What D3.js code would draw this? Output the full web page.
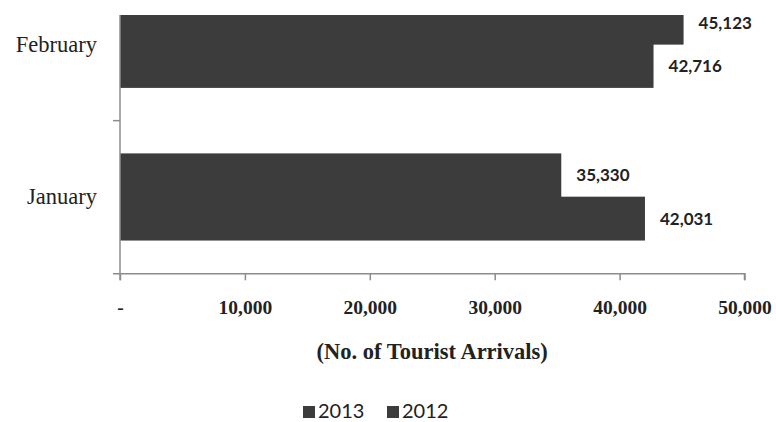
<!DOCTYPE html>
<html>
<head>
<meta charset="utf-8">
<script src="https://cdn.jsdelivr.net/npm/d3@7"></script>
<style>
  html, body { margin: 0; padding: 0; background: #fff; }
  svg { display: block; }
</style>
</head>
<body>
<svg id="chart" width="776" height="422"></svg>
<script>
// Monthly tourist arrivals, 2013 vs 2012
const months = ["February", "January"];
const years = ["2013", "2012"];
const arrivals2013 = [45123, 35330];
const arrivals2012 = [42716, 42031];
const xTicks = [0, 10000, 20000, 30000, 40000, 50000];
const xTickLabels = ["-", "10,000", "20,000", "30,000", "40,000", "50,000"];
const axisTitle = "(No. of Tourist Arrivals)";

const rows = months.map((m, i) => ({
  month: m,
  values: [
    { year: years[0], value: arrivals2013[i] },
    { year: years[1], value: arrivals2012[i] }
  ]
}));

const svg = d3.select("#chart");
const left = 120, right = 744.5, bottom = 273.3;
const bandStep = 152.65;

const x = d3.scaleLinear().domain([0, 50000]).range([left, right]);
const y = d3.scaleBand()
  .domain(months)
  .range([bottom - bandStep * months.length, bottom])
  .paddingInner(0.433)
  .paddingOuter(0.2165);
const ySub = d3.scaleBand().domain(years).range([0, y.bandwidth()]);

const barColor = "#3c3c3c";
const axisColor = "#8c8c8c";

// plot area is trimmed at the top edge
svg.append("defs").append("clipPath").attr("id", "plotClip")
  .append("rect").attr("x", 0).attr("y", 15).attr("width", 776).attr("height", 422);

const plot = svg.append("g").attr("clip-path", "url(#plotClip)");

// bars
const groups = plot.selectAll("g.month")
  .data(rows).join("g")
  .attr("class", "month")
  .attr("transform", d => `translate(0,${y(d.month)})`);

groups.selectAll("rect")
  .data(d => d.values).join("rect")
  .attr("x", x(0))
  .attr("y", d => ySub(d.year) - 0.3)
  .attr("width", d => x(d.value) - x(0))
  .attr("height", ySub.bandwidth() + 0.6)
  .attr("fill", barColor);

// value labels
groups.selectAll("text")
  .data(d => d.values).join("text")
  .attr("x", d => x(d.value) + 15)
  .attr("y", d => ySub(d.year) + ySub.bandwidth() / 2)
  .attr("dy", "0.36em")
  .attr("font-family", "Lato, 'Open Sans', sans-serif")
  .attr("font-weight", "bold")
  .attr("font-size", 17)
  .attr("fill", "#222")
  .text(d => d3.format(",")(d.value));

// x axis
const xAxis = d3.axisBottom(x)
  .tickValues(xTicks)
  .tickSize(7)
  .tickFormat((d, i) => xTickLabels[i]);
const gx = svg.append("g")
  .attr("transform", `translate(0,${bottom})`)
  .call(xAxis);
gx.select(".domain").attr("stroke", axisColor).attr("stroke-width", 1.5)
  .attr("d", `M${left - 7},0.5H${right}V7`);
gx.selectAll(".tick line").attr("stroke", axisColor).attr("stroke-width", 1.5);
gx.selectAll(".tick text")
  .attr("y", 41)
  .attr("dy", 0)
  .attr("font-family", "'Liberation Serif', 'Times New Roman', serif")
  .attr("font-weight", "bold")
  .attr("font-size", 19.5)
  .attr("fill", "#222");

// y axis
const yAxis = d3.axisLeft(y).tickSize(0).tickPadding(23);
const gy = svg.append("g")
  .attr("transform", `translate(${left},0)`)
  .call(yAxis);
gy.select(".domain").attr("stroke", axisColor).attr("stroke-width", 1.5)
  .attr("d", `M0,15V${bottom + 7}`);
gy.selectAll(".tick text")
  .attr("font-family", "'Liberation Serif', 'Times New Roman', serif")
  .attr("font-size", 22.5)
  .attr("fill", "#222");

// category boundary ticks
const boundaries = months.map(m => y(m) - y.step() * y.paddingInner() / 2).slice(1);
gy.selectAll("line.boundary")
  .data(boundaries).join("line")
  .attr("class", "boundary")
  .attr("x1", -7).attr("x2", 0)
  .attr("y1", d => d).attr("y2", d => d)
  .attr("stroke", axisColor).attr("stroke-width", 1.5);

// axis title
svg.append("text")
  .attr("x", (left + right) / 2)
  .attr("y", 359)
  .attr("text-anchor", "middle")
  .attr("font-family", "'Liberation Serif', 'Times New Roman', serif")
  .attr("font-weight", "bold")
  .attr("font-size", 22.5)
  .attr("fill", "#222")
  .text(axisTitle);

// legend
const legend = svg.append("g").attr("transform", "translate(303,418)");
const legendItems = legend.selectAll("g")
  .data(years).join("g")
  .attr("transform", (d, i) => `translate(${i * 84},0)`);
legendItems.append("rect")
  .attr("x", 0).attr("y", -12).attr("width", 12).attr("height", 12)
  .attr("fill", barColor);
legendItems.append("text")
  .attr("x", 15).attr("y", 0)
  .attr("font-family", "Lato, 'Open Sans', sans-serif")
  .attr("font-size", 20)
  .attr("fill", "#222")
  .text(d => d);
</script>
</body>
</html>
